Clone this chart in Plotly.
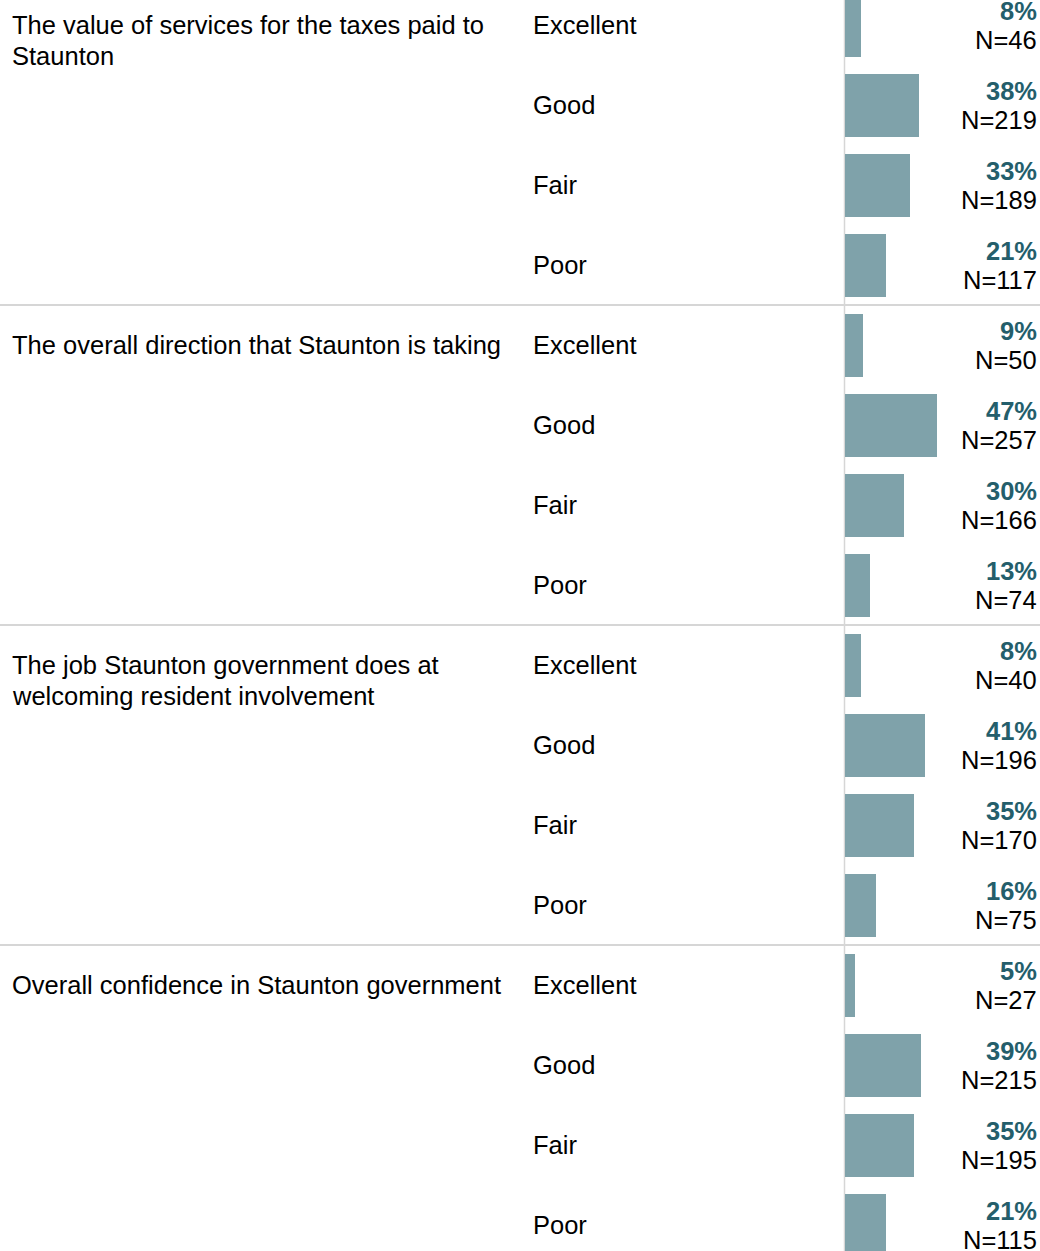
import plotly.graph_objects as go

question_lines = [
    ["The value of services for the taxes paid to", "Staunton"],
    ["The overall direction that Staunton is taking"],
    ["The job Staunton government does at", "welcoming resident involvement"],
    ["Overall confidence in Staunton government"],
]
ratings = ["Excellent", "Good", "Fair", "Poor"]
percents = [
    [8, 38, 33, 21],
    [9, 47, 30, 13],
    [8, 41, 35, 16],
    [5, 39, 35, 21],
]
counts = [
    [46, 219, 189, 117],
    [50, 257, 166, 74],
    [40, 196, 170, 75],
    [27, 215, 195, 115],
]

W, H = 1040, 1251
FONT = "Arial, 'Liberation Sans', Helvetica, sans-serif"
FS = 25.5
BAR_COLOR = "#7fa2aa"
PCT_COLOR = "#245e6b"
LINE_COLOR = "#d6d6d6"

# layout geometry (pixels)
x0_px = 845.0          # bar baseline pixel
px_per_pct = 1.958
row_px = 80.0
first_center_px = 25.0
line_gap_px = 31.0

x_range = [-x0_px / px_per_pct, (W - x0_px) / px_per_pct]
y_top = -first_center_px / row_px
y_bot = (H - first_center_px) / row_px

rows_y, rows_x = [], []
for g in range(len(percents)):
    for r in range(len(ratings)):
        rows_y.append(g * len(ratings) + r)
        rows_x.append(percents[g][r])

fig = go.Figure()
fig.add_trace(go.Bar(
    x=rows_x, y=rows_y, orientation="h",
    width=63 / row_px,
    marker=dict(color=BAR_COLOR, line=dict(width=0)),
    hoverinfo="skip",
))

annotations = []
shapes = []
for g, lines in enumerate(question_lines):
    base = g * len(ratings)
    for k, line in enumerate(lines):
        annotations.append(dict(
            x=10 / W, xref="paper", y=base, yref="y",
            text=line, showarrow=False, xanchor="left", yanchor="middle",
            align="left", yshift=-k * line_gap_px,
            font=dict(family=FONT, size=FS, color="#000000"),
        ))
    for r, rating in enumerate(ratings):
        yy = base + r
        annotations.append(dict(
            x=531 / W, xref="paper", y=yy, yref="y",
            text=rating, showarrow=False, xanchor="left", yanchor="middle",
            font=dict(family=FONT, size=FS, color="#000000"),
        ))
        annotations.append(dict(
            x=1039 / W, xref="paper", y=yy, yref="y",
            text=f"<b>{percents[g][r]}%</b>", showarrow=False,
            xanchor="right", yanchor="middle", yshift=14,
            font=dict(family=FONT, size=FS, color=PCT_COLOR),
        ))
        annotations.append(dict(
            x=1039 / W, xref="paper", y=yy, yref="y",
            text=f"N={counts[g][r]}", showarrow=False,
            xanchor="right", yanchor="middle", yshift=-15,
            font=dict(family=FONT, size=FS, color="#000000"),
        ))
    if g > 0:
        shapes.append(dict(
            type="line", xref="paper", x0=0, x1=1, yref="y",
            y0=base - 0.5, y1=base - 0.5,
            line=dict(color=LINE_COLOR, width=2), layer="above",
        ))

shapes.append(dict(
    type="line", xref="x", x0=-0.25, x1=-0.25, yref="paper", y0=0, y1=1,
    line=dict(color=LINE_COLOR, width=1.5), layer="below",
))

fig.update_layout(
    width=W, height=H,
    margin=dict(l=0, r=0, t=0, b=0),
    paper_bgcolor="white", plot_bgcolor="white",
    showlegend=False,
    xaxis=dict(range=x_range, visible=False, fixedrange=True),
    yaxis=dict(range=[y_bot, y_top], visible=False, fixedrange=True),
    annotations=annotations,
    shapes=shapes,
    bargap=0,
)

fig.write_html(
    "out.html",
    config={"displayModeBar": False},
    post_script="document.body.style.margin='0';document.body.style.overflow='hidden';",
)
